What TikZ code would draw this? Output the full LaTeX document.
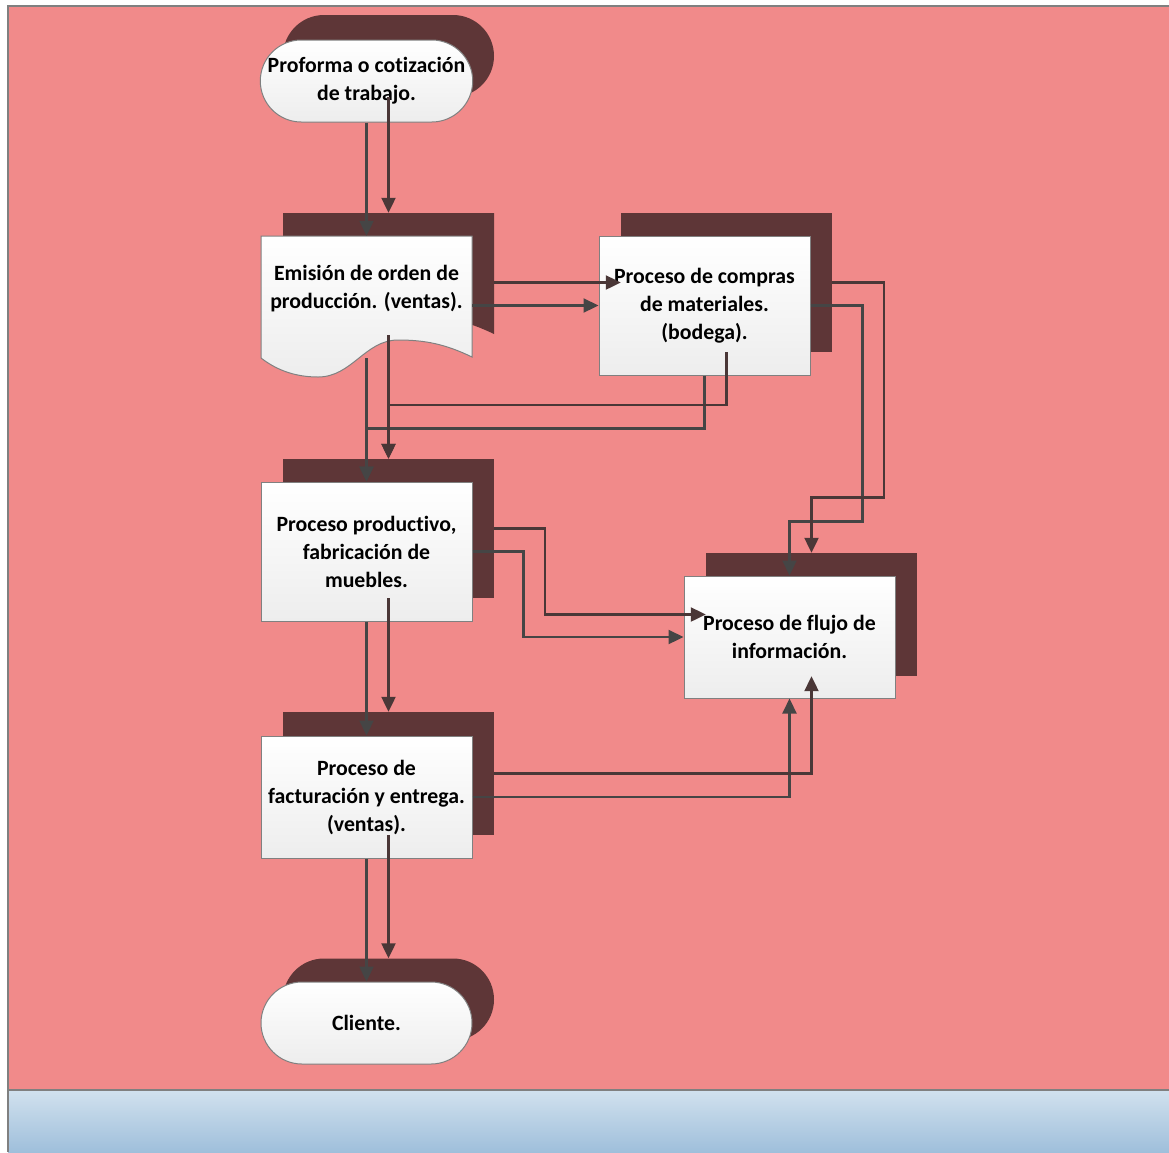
\documentclass[tikz,border=0pt]{standalone}
\usepackage{fontspec}
\setmainfont{Carlito}[Ligatures=NoCommon]
\usetikzlibrary{arrows.meta,shapes.misc,calc}

\definecolor{pinkbg}{HTML}{F18A8A}
\definecolor{shadowc}{HTML}{5E3637}
\definecolor{linec}{HTML}{454545}
\definecolor{slinec}{HTML}{4A3737}
\definecolor{edgec}{HTML}{808080}
\definecolor{bandtop}{HTML}{D1E1EE}
\definecolor{bandbot}{HTML}{9FBFDB}
\definecolor{boxbot}{HTML}{EDEDED}

\tikzset{
  lbl/.style={font=\bfseries\fontsize{21.8}{28}\selectfont, text=black, align=center},
  procbox/.style={rectangle, draw=edgec, line width=1pt, top color=white, bottom color=boxbot,
    minimum width=211pt, inner sep=0pt, lbl},
  procshadow/.style={rectangle, fill=shadowc, minimum width=211pt, inner sep=0pt},
  termbox/.style={rounded rectangle, draw=edgec, line width=1pt, top color=white, bottom color=boxbot,
    minimum width=211pt, minimum height=82pt, inner sep=0pt, lbl},
  termshadow/.style={rounded rectangle, fill=shadowc, minimum width=211pt, minimum height=82pt, inner sep=0pt},
  anchorbox/.style={rectangle, minimum width=211pt, inner sep=0pt},
  flow/.style={draw=linec, line width=2.2pt, -{Triangle[length=15pt,width=14pt]}},
  sflow/.style={draw=slinec, line width=2.2pt, -{Triangle[length=15pt,width=14pt]}},
}

% outline of the document shape (wavy bottom)
\def\docoutline{(261,236) -- (472,236) -- (472,357)
  .. controls (445,344) and (425,340) .. (398,340)
  .. controls (365,340) and (352,377) .. (318,377)
  .. controls (292,377) and (274,368) .. (261,358) -- cycle}

\begin{document}
\begin{tikzpicture}[x=1pt,y=-1pt]
  \useasboundingbox (0,0) rectangle (1169,1152);

  % page background
  \fill[white] (0,0) rectangle (1169,1152);
  \fill[pinkbg] (8,6) rectangle (1169,1090);
  \shade[top color=bandtop, bottom color=bandbot] (8,1090) rectangle (1169,1152);
  \draw[edgec, line width=1.6pt] (8,1152) -- (8,6) -- (1169,6);
  \draw[edgec, line width=1.6pt] (8,1090) -- (1169,1090);

  % shadows
  \node[termshadow] (pfs) at (388.5,56) {};
  \begin{scope}[shift={(22,-23)}]
    \fill[shadowc] \docoutline;
  \end{scope}
  \node[anchorbox, minimum height=122pt] (ems) at (388.5,274) {};
  \node[procshadow, minimum height=139pt] (cps) at (726.5,282.5) {};
  \node[procshadow, minimum height=139pt] (pps) at (388.5,528.5) {};
  \node[procshadow, minimum height=123pt] (fas) at (388.5,773.5) {};
  \node[procshadow, minimum height=123pt] (fls) at (811.5,614.5) {};
  \node[termshadow] (cls) at (388.5,999.5) {};

  % shapes
  \node[termbox] (pf) at (366.5,81) {Proforma o cotización\\de trabajo.};
  \path[draw=edgec, line width=1pt, top color=white, bottom color=boxbot] \docoutline;
  \node[anchorbox, minimum height=122pt] (em) at (366.5,297) {};
  \node[lbl] (emt) at (366.5,289) {Emisión de orden de\\producción. (ventas).};
  \node[procbox, minimum height=139pt] (cp) at (704.5,305.5) {Proceso de compras\\de materiales.\\(bodega).};
  \node[procbox, minimum height=139pt] (pp) at (366.5,551.5) {Proceso productivo,\\fabricación de\\muebles.};
  \node[procbox, minimum height=122pt] (fa) at (366.5,797) {Proceso de\\facturación y entrega.\\(ventas).};
  \node[procbox, minimum height=122pt] (fl) at (789.5,637) {Proceso de flujo de\\información.};
  \node[termbox] (cl) at (366.5,1023) {Cliente.};

  % connectors between the shapes
  \draw[flow] (pf.south) -- (em.north);
  \draw[flow] (em.east |- cp.west) -- (cp.west);
  \draw[flow] (em.south) -- (pp.north);
  \draw[flow] (cp.south) -- ++(0,53) -| (pp.north);
  \draw[flow] (cp.east) -- ++(52,0) -- ++(0,216) -| (fl.north);
  \draw[flow] (pp.east) -- ++(51,0) |- (fl.west);
  \draw[flow] (pp.south) -- (fa.north);
  \draw[flow] (fa.east) -| (fl.south);
  \draw[flow] (fa.south) -- (cl.north);

  % connectors between the shadows
  \draw[sflow] (pfs.south) -- (ems.north);
  \draw[sflow] (ems.east |- cps.west) -- (cps.west);
  \draw[sflow] (ems.south) -- (pps.north);
  \draw[sflow] (cps.south) -- ++(0,53) -| (pps.north);
  \draw[sflow] (cps.east) -- ++(52,0) -- ++(0,215) -| (fls.north);
  \draw[sflow] (pps.east) -- ++(51,0) |- (fls.west);
  \draw[sflow] (pps.south) -- (fas.north);
  \draw[sflow] (fas.east) -| (fls.south);
  \draw[sflow] (fas.south) -- (cls.north);
\end{tikzpicture}
\end{document}
